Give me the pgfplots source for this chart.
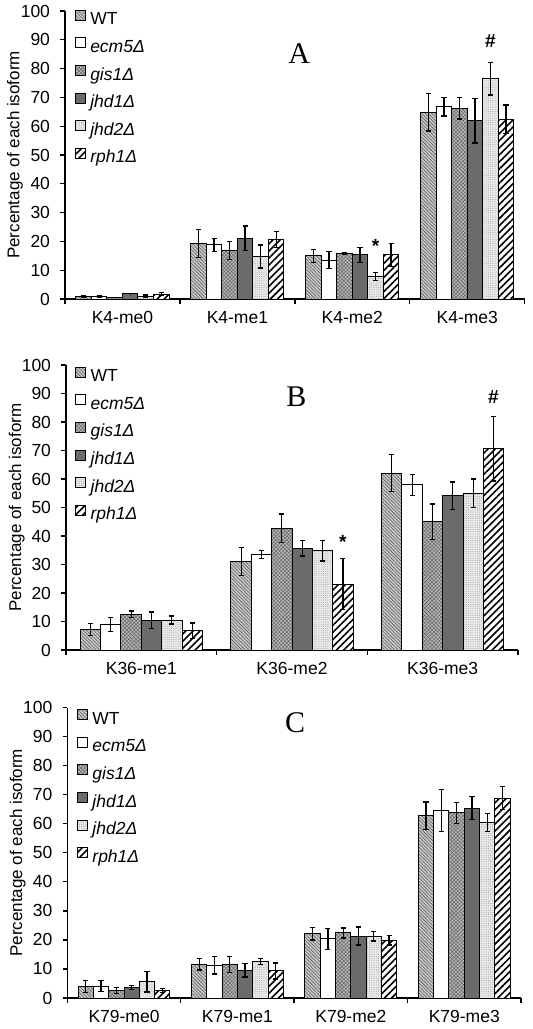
\documentclass[border=0pt]{standalone}
\usepackage{fontspec}
\setmainfont{Liberation Sans}
\newfontfamily\timesfont{Liberation Serif}
\usepackage{pgfplots}
\pgfplotsset{compat=1.18}
\usepackage{pgfplotstable}
\usetikzlibrary{patterns.meta}

\pgfplotstableread{
x WT WTe EC ECe GI GIe JA JAe JB JBe RP RPe
0 0.9 0.4 0.9 0.4 0.6 0.0 1.9 0.1 1.0 0.4 1.7 0.6
1 19.3 4.9 18.8 2.3 16.8 3.1 21.1 4.2 14.8 4.0 20.7 2.7
2 15.0 2.3 13.5 3.0 15.8 0.3 15.3 2.7 7.8 1.4 15.3 4.0
3 64.8 6.5 66.7 3.2 66.2 3.7 61.9 7.7 76.4 5.6 62.4 5.0
}\dataA
\pgfplotstableread{
x WT WTe EC ECe GI GIe JA JAe JB JBe RP RPe
0 7.2 2.0 9.0 2.4 12.5 1.2 10.4 2.9 10.5 1.4 6.8 2.7
1 31.0 4.9 33.6 1.4 42.7 5.0 35.7 2.7 34.8 3.6 23.1 8.9
2 62.1 6.4 57.9 3.7 45.0 6.2 54.1 4.8 55.0 5.0 70.6 11.3
}\dataB
\pgfplotstableread{
x WT WTe EC ECe GI GIe JA JAe JB JBe RP RPe
0 3.9 2.1 4.1 1.9 2.5 1.0 3.7 0.7 5.6 3.5 2.6 0.6
1 11.6 2.0 11.3 3.0 11.6 2.7 9.6 2.4 12.6 1.1 9.3 2.8
2 22.1 2.1 20.4 3.6 22.4 1.7 21.3 3.1 21.3 1.7 19.8 1.6
3 62.7 4.8 64.5 7.3 63.7 3.6 65.4 4.0 60.4 3.1 68.8 4.0
}\dataC

\pgfplotsset{
  sWT/.style={draw=black, line width=1bp, fill=black!22,
    postaction={pattern={Lines[angle=-45,distance=2.4bp,line width=0.55bp]}, pattern color=black!65}},
  sEC/.style={draw=black, line width=1bp, fill=white},
  sGI/.style={draw=black, line width=1bp, fill=black!28,
    postaction={pattern={Hatch[angle=45,distance=2.6bp,line width=0.5bp]}, pattern color=black!60}},
  sJA/.style={draw=black, line width=1bp, fill=black!58},
  sJB/.style={draw=black, line width=1bp, fill=black!9,
    postaction={pattern={Dots[distance=2.2bp,radius=0.45bp]}, pattern color=black!40}},
  sRP/.style={draw=black, line width=1bp, fill=white,
    postaction={pattern={Lines[angle=45,distance=5bp,line width=1.6bp]}, pattern color=black}},
  panel/.style={
    scale only axis, ybar=0pt, bar width=0.135,
    ymin=0, ymax=100, ytick={0,10,...,100},
    axis x line*=bottom, axis y line*=left,
    axis line style={line width=1.3bp, black},
    tick align=outside, major tick length=4.5bp,
    tick style={line width=1.3bp, black},
    /pgf/number format/assume math mode=true,
    tick label style={font=\fontsize{17.5bp}{20bp}\selectfont},
    yticklabel style={xshift=-7bp},
    xticklabel style={yshift=-9bp},
    ylabel={Percentage of each isoform},
    ylabel style={font=\fontsize{17bp}{20bp}\selectfont, at={(axis description cs:-0.109,0.5)}, anchor=center},
    clip=false,
    every axis plot/.append style={
      error bars/y dir=both, error bars/y explicit,
      error bars/error bar style={line width=1.3bp, black, solid},
      error bars/error mark options={rotate=90, mark size=2.6bp, line width=1.3bp, black}},
    legend image code/.code={\draw[#1,/tikz/.cd,line width=0.9bp] (0bp,0bp) rectangle (10bp,10bp);},
    legend cell align=left,
    legend style={draw=none, fill=none, inner sep=0pt, anchor=north west,
      font=\fontsize{17.5bp}{20bp}\selectfont,
      nodes={inner sep=0pt, text height=12.5bp, text depth=3.5bp},
      row sep=9.2bp, column sep=4.5bp},
  },
}

\newcommand{\sixplots}[1]{%
  \addplot[sWT, bar shift=-0.3375] table[x=x,y=WT,y error=WTe]{#1};
  \addplot[sEC, bar shift=-0.2025] table[x=x,y=EC,y error=ECe]{#1};
  \addplot[sGI, bar shift=-0.0675] table[x=x,y=GI,y error=GIe]{#1};
  \addplot[sJA, bar shift=0.0675] table[x=x,y=JA,y error=JAe]{#1};
  \addplot[sJB, bar shift=0.2025] table[x=x,y=JB,y error=JBe]{#1};
  \addplot[sRP, bar shift=0.3375] table[x=x,y=RP,y error=RPe]{#1};
  \legend{WT,\textit{ecm5Δ},\textit{gis1Δ},\textit{jhd1Δ},\textit{jhd2Δ},\textit{rph1Δ}}
}

\begin{document}
\begin{tikzpicture}
% Panel A
\begin{axis}[panel, at={(65bp,-299bp)}, anchor=south west,
  width=459.7bp, height=288bp,
  xmin=-0.5, xmax=3.5,
  xtick={-0.5,0.5,1.5,2.5,3.5}, xticklabels={,,,,},
  extra x ticks={0,1,2,3},
  extra x tick labels={K4-me0,K4-me1,K4-me2,K4-me3},
  extra x tick style={major tick length=0pt},
  legend style={at={(axis description cs:0.021,1.005)}}]
  \sixplots{\dataA}
  \node[font=\timesfont\fontsize{30bp}{30bp}\selectfont] at (axis cs:1.538,85.2) {A};
  \node[font=\bfseries\fontsize{19bp}{19bp}\selectfont] at (axis cs:2.2025,18.5) {*};
  \node[font=\bfseries\fontsize{19bp}{19bp}\selectfont] at (axis cs:3.2025,89.7) {\#};
\end{axis}
% Panel B
\begin{axis}[panel, at={(66bp,-650bp)}, anchor=south west,
  width=452bp, height=285bp,
  xmin=-0.5, xmax=2.5,
  xtick={-0.5,0.5,1.5,2.5}, xticklabels={,,,},
  extra x ticks={0,1,2},
  extra x tick labels={K36-me1,K36-me2,K36-me3},
  extra x tick style={major tick length=0pt},
  legend style={at={(axis description cs:0.02,0.995)}}]
  \sixplots{\dataB}
  \node[font=\timesfont\fontsize{30bp}{30bp}\selectfont] at (axis cs:1.029,88.7) {B};
  \node[font=\bfseries\fontsize{19bp}{19bp}\selectfont] at (axis cs:1.3375,37.8) {*};
  \node[font=\bfseries\fontsize{19bp}{19bp}\selectfont] at (axis cs:2.3375,88.7) {\#};
\end{axis}
% Panel C
\begin{axis}[panel, at={(67.3bp,-998bp)}, anchor=south west,
  width=453.7bp, height=290.5bp,
  xmin=-0.5, xmax=3.5,
  xtick={-0.5,0.5,1.5,2.5,3.5}, xticklabels={,,,,},
  extra x ticks={0,1,2,3},
  extra x tick labels={K79-me0,K79-me1,K79-me2,K79-me3},
  extra x tick style={major tick length=0pt},
  legend style={at={(axis description cs:0.021,0.995)}}]
  \sixplots{\dataC}
  \node[font=\timesfont\fontsize{30bp}{30bp}\selectfont] at (axis cs:1.509,94.8) {C};
\end{axis}
\pgfresetboundingbox
\path[use as bounding box] (0bp,0bp) rectangle (533bp,-1029bp);
\end{tikzpicture}
\end{document}
